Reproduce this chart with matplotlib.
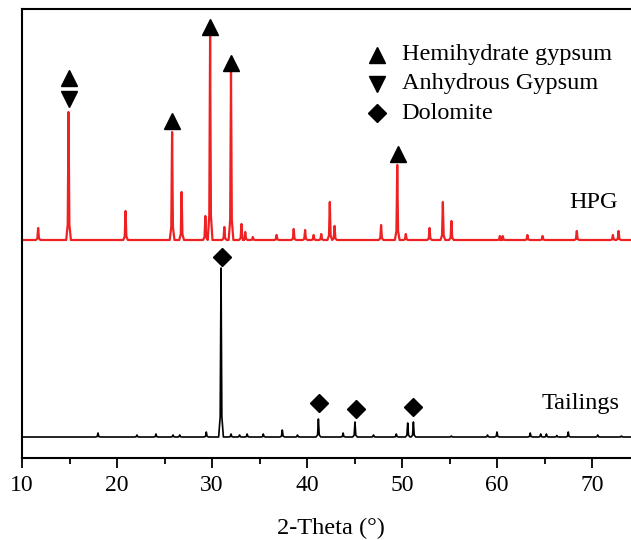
import numpy as np
import matplotlib.pyplot as plt
from matplotlib.ticker import MultipleLocator

plt.rcParams["font.family"] = ["Liberation Serif", "DejaVu Serif"]

# peak positions (2-theta) and heights (arb. units)
hpg_pos = [11.7, 14.9, 20.9, 25.8, 26.8, 29.3, 29.8, 31.3, 32.0, 33.1, 33.5, 34.3,
           36.8, 38.6, 39.8, 40.7, 41.5, 42.4, 42.9, 47.8, 49.5, 50.4, 52.9, 54.3,
           55.2, 60.3, 60.6, 63.2, 64.8, 68.4, 72.2, 72.8]
hpg_int = [12, 128, 29, 108, 48, 24, 205, 13, 168, 16, 8, 3,
           5, 11, 10, 5, 6, 38, 14, 15, 75, 6, 12, 38,
           19, 4, 4, 5, 4, 9, 5, 9]

tail_pos = [18.0, 22.1, 24.1, 25.9, 26.6, 29.4, 30.95, 32.0, 32.9, 33.7, 35.4, 37.4,
            39.0, 41.2, 43.8, 45.05, 47.0, 49.4, 50.6, 51.2, 55.2, 59.0, 60.0, 63.5,
            64.6, 65.2, 66.3, 67.5, 70.6, 73.1]
tail_int = [4, 2, 3, 2, 2, 5, 169, 3, 2, 3, 3, 7,
            2, 18, 4, 15, 2, 3, 14, 15, 1, 2, 5, 4,
            3, 3, 1.5, 5, 2, 1]

hpg_offset = 218
tail_offset = 21

# phase markers
hemi_x = [14.9, 25.8, 29.8, 32.0, 49.6]
hemi_y = [380, 337, 431, 395, 304]
anhy_x = [14.9]
anhy_y = [359]
dolo_x = [31.0, 41.3, 45.2, 51.2]
dolo_y = [201, 55, 49, 51]


def trace(pos, inten, offset, lo=10, hi=75, hw=0.25):
    xs = [lo]
    ys = [offset]
    for p, h in sorted(zip(pos, inten)):
        xs += [p - hw, p - hw * 0.35, p, p + hw * 0.35, p + hw]
        ys += [offset, offset + h * 0.12, offset + h, offset + h * 0.12, offset]
    xs.append(hi)
    ys.append(offset)
    return np.array(xs), np.array(ys)


fig = plt.figure(figsize=(6.31, 5.40), dpi=100)
ax = fig.add_axes([22 / 631, (540 - 458) / 540, 617.5 / 631, 449 / 540])

x, y = trace(hpg_pos, hpg_int, hpg_offset)
ax.plot(x, y, color="#ee2222", lw=1.6)
x, y = trace(tail_pos, tail_int, tail_offset)
ax.plot(x, y, color="black", lw=1.2)

ax.plot(hemi_x, hemi_y, "^", color="black", ms=12, ls="none")
ax.plot(anhy_x, anhy_y, "v", color="black", ms=12, ls="none")
ax.plot(dolo_x, dolo_y, "D", color="black", ms=9, ls="none")

ax.text(67.6, 255, "HPG", fontsize=17.5, va="center", ha="left")
ax.text(64.7, 55, "Tailings", fontsize=17.5, va="center", ha="left")

# legend drawn by hand
leg_y = [0.8976, 0.833, 0.768]
leg_m = ["^", "v", "D"]
leg_ms = [12, 12, 9]
leg_t = ["Hemihydrate gypsum", "Anhydrous Gypsum", "Dolomite"]
for yy, m, s, t in zip(leg_y, leg_m, leg_ms, leg_t):
    ax.plot([0.575], [yy], m, color="black", ms=s, transform=ax.transAxes, clip_on=False)
    ax.text(0.615, yy, t, fontsize=17.5, va="center", ha="left", transform=ax.transAxes)

ax.set_xlim(10, 75)
ax.set_ylim(0, 449)
ax.xaxis.set_major_locator(MultipleLocator(10))
ax.xaxis.set_minor_locator(MultipleLocator(5))
ax.tick_params(axis="x", which="major", direction="out", length=7, width=1.3, labelsize=17, pad=5)
ax.tick_params(axis="x", which="minor", direction="out", length=4, width=1.3)
ax.set_yticks([])
for sp in ax.spines.values():
    sp.set_linewidth(1.5)
ax.set_xlabel("2-Theta (°)", fontsize=17.5, labelpad=16)

fig.savefig("out.png", dpi=100)
